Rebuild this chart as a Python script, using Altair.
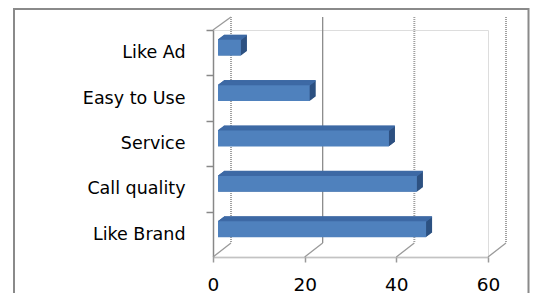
import altair as alt
import pandas as pd

categories = ["Like Ad", "Easy to Use", "Service", "Call quality", "Like Brand"]
values = [5, 20, 37.3, 43.4, 45.4]
tick_values = [0, 20, 40, 60]

bars_df = pd.DataFrame({"cat": categories, "val": values})
grid_df = pd.DataFrame({"t": tick_values})
one_df = pd.DataFrame({"z": [0]})

W, H = 275, 227
FONT = "DejaVu Sans"
DEPTH_X, DEPTH_Y = 18, -14
FRONT_X, FRONT_Y = 5, -5

xscale = alt.Scale(domain=[0, 60], nice=False, zero=True)
yscale = alt.Scale(domain=categories, paddingInner=0.65, paddingOuter=0.325)
step = H / 5.0

base_bars = alt.Chart(bars_df)

# outer frame
frame = alt.Chart(one_df).mark_rect(
    fillOpacity=0, stroke="#8a8a8a", strokeWidth=2
).encode(
    x=alt.value(-199), x2=alt.value(315.5), y=alt.value(-21), y2=alt.value(320)
)

# back wall gridlines
grid_solid = alt.Chart(grid_df).transform_filter("datum.t == 20").mark_rule(
    xOffset=DEPTH_X, color="#8c8c8c", strokeWidth=1.3
).encode(x=alt.X("t:Q", scale=xscale), y=alt.value(DEPTH_Y + 1), y2=alt.value(H + DEPTH_Y))
grid_dot = alt.Chart(grid_df).transform_filter("datum.t != 20").mark_rule(
    xOffset=DEPTH_X, color="#a0a0a0", strokeWidth=2, strokeDash=[1, 1]
).encode(x=alt.X("t:Q", scale=xscale), y=alt.value(DEPTH_Y + 1), y2=alt.value(H + DEPTH_Y))

# floor diagonals
floor = alt.Chart(grid_df).mark_rule(
    x2Offset=DEPTH_X, color="#9a9a9a", strokeWidth=1.3
).encode(
    x=alt.X("t:Q", scale=xscale), x2="t:Q", y=alt.value(H), y2=alt.value(H + DEPTH_Y)
)
# top-left diagonal of the side wall
wall_top = alt.Chart(one_df).mark_rule(
    x2Offset=DEPTH_X, color="#9a9a9a", strokeWidth=1.3
).encode(
    x=alt.X("z:Q", scale=xscale), x2="z:Q", y=alt.value(0), y2=alt.value(DEPTH_Y + 1)
)

layers = [frame, grid_solid, grid_dot, floor, wall_top]

# bar extrusion (right face, dark)
for i in range(12, 0, -1):
    s = i * 0.5
    layers.append(
        base_bars.mark_bar(
            color="#2e5282",
            xOffset=FRONT_X + s, x2Offset=FRONT_X + s,
            yOffset=FRONT_Y - 0.75 * s, y2Offset=FRONT_Y - 0.75 * s,
        ).encode(
            x=alt.X("val:Q", scale=xscale),
            y=alt.Y("cat:N", scale=yscale, sort=categories),
        )
    )

# top face
for i in range(0, 13):
    s = i * 0.5
    layers.append(
        base_bars.mark_rule(
            color="#3e6aa5", strokeWidth=1.2,
            xOffset=FRONT_X + s, x2Offset=FRONT_X + s,
            yOffset=FRONT_Y - 7.95 - 0.75 * s, y2Offset=FRONT_Y - 7.95 - 0.75 * s,
        ).encode(
            x=alt.X("val:Q", scale=xscale),
            x2=alt.datum(0),
            y=alt.Y("cat:N", scale=yscale, sort=categories),
        )
    )

# front face
front = base_bars.mark_bar(
    color="#4f81bd",
    xOffset=FRONT_X, x2Offset=FRONT_X, yOffset=FRONT_Y, y2Offset=FRONT_Y,
).encode(
    x=alt.X(
        "val:Q", scale=xscale,
        axis=alt.Axis(
            values=tick_values, title=None, grid=False,
            labelFont=FONT, labelFontSize=18.5, labelColor="#000000",
            labelPadding=13, tickSize=5, tickColor="#999999", tickWidth=1.5,
            domainColor="#a8a8a8", domainWidth=2, domainDash=[1, 1],
            labelFlush=False,
        ),
    ),
    y=alt.Y(
        "cat:N", scale=yscale, sort=categories,
        axis=alt.Axis(
            title=None, labelFont=FONT, labelFontSize=17.5, labelColor="#000000",
            labelPadding=21, tickSize=7, tickColor="#888888", tickWidth=1.5,
            tickOffset=-step / 2, labelOffset=step / 2,
            domainColor="#888888", domainWidth=1.5,
        ),
    ),
)
layers.append(front)

chart = alt.layer(*layers).properties(
    width=W, height=H,
    padding={"left": 205, "top": 22, "right": 42, "bottom": 36},
    autosize=alt.AutoSizeParams(type="none"),
).configure_view(stroke=None).configure(background="white")

chart.save("out.html", embed_options={"renderer": "svg", "actions": False})
